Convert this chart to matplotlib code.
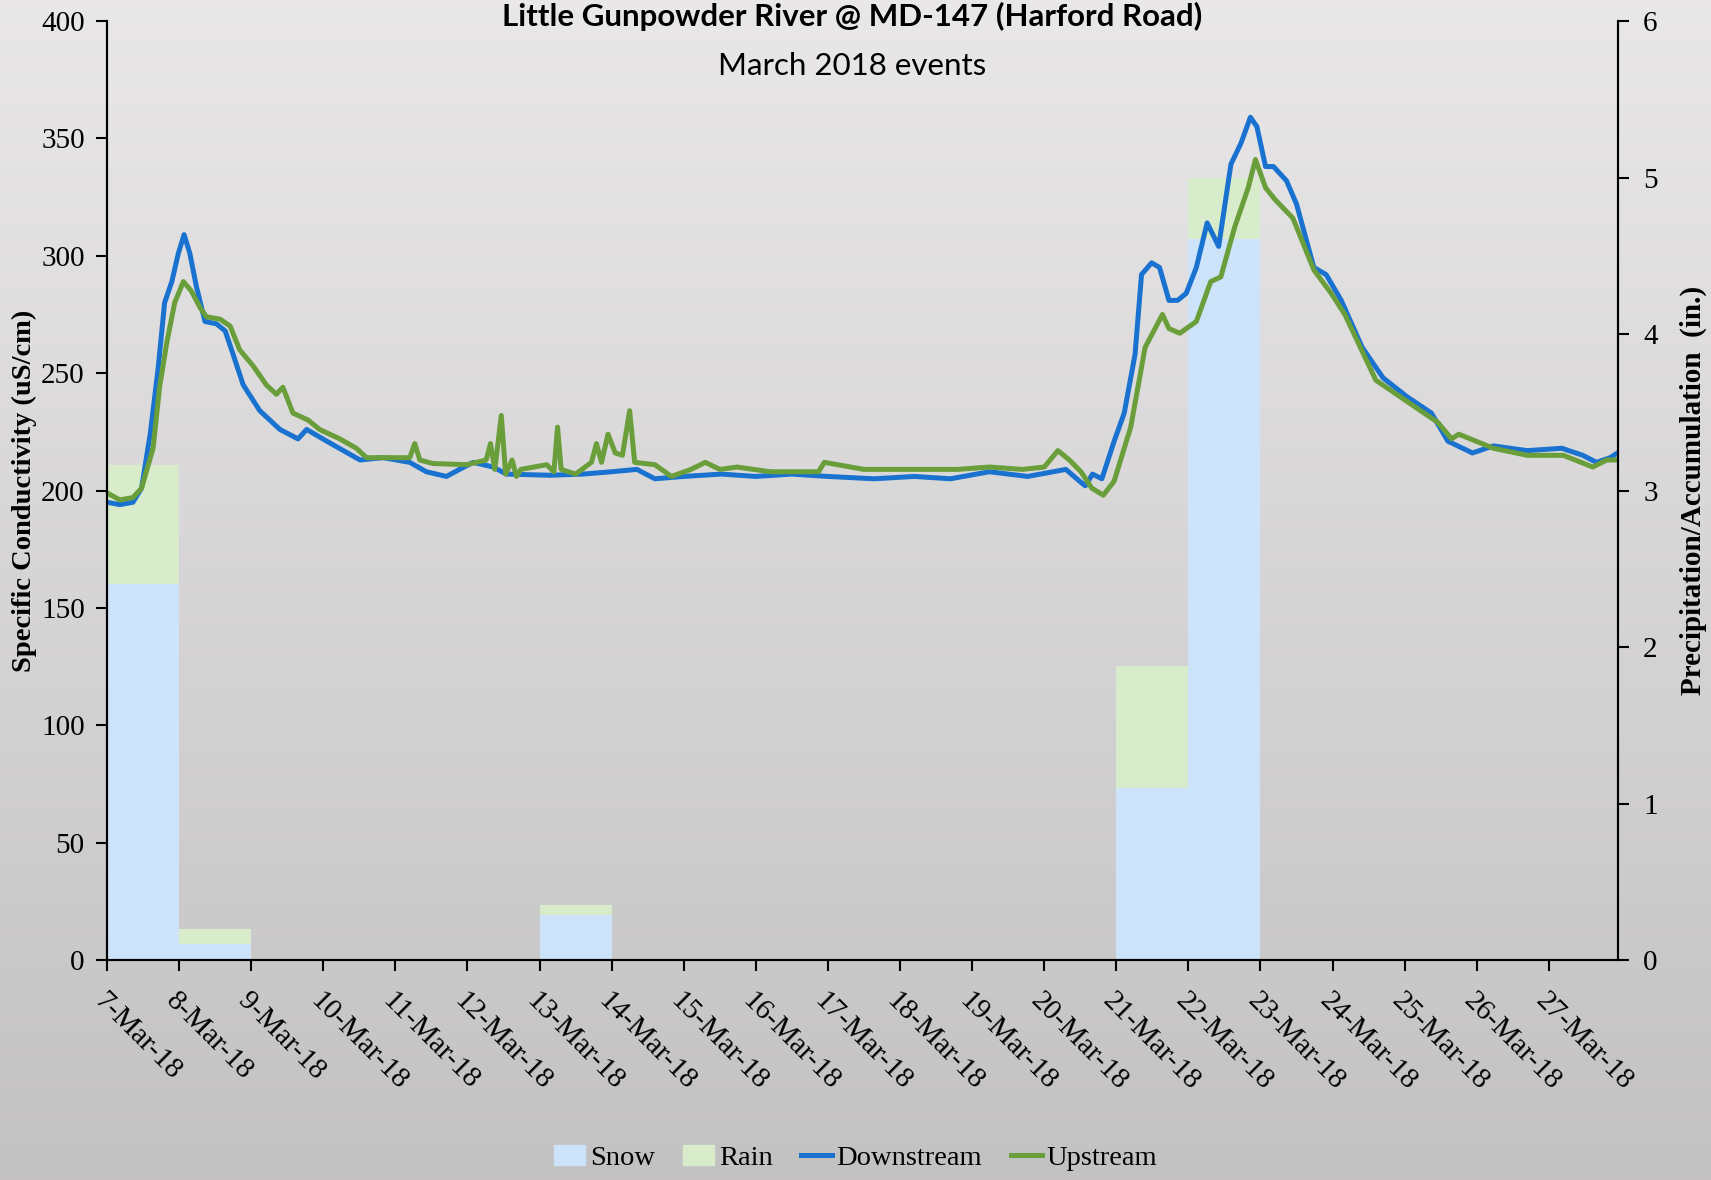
import numpy as np
import matplotlib
matplotlib.use("Agg")
import matplotlib.pyplot as plt
from matplotlib.patches import Patch
from matplotlib.lines import Line2D

# day labels (tick at midnight of each day, starting 7-Mar-18)
day_labels = ["%d-Mar-18" % d for d in range(7, 28)]

# precipitation per day (inches), bar starts at day offset
precip_day = [0, 1, 6, 14, 15]
snow = [2.40, 0.10, 0.29, 1.10, 4.61]
rain = [0.76, 0.10, 0.06, 0.78, 0.39]

# specific conductivity, days since 7-Mar 00:00
down_t = [0, 0.18, 0.36, 0.48, 0.6, 0.71, 0.8, 0.9, 0.99, 1.07, 1.15, 1.24, 1.36, 1.52,
          1.64, 1.75, 1.89, 2.12, 2.4, 2.65, 2.77, 3.05, 3.51, 3.83, 4.2, 4.43, 4.71,
          4.89, 5.08, 5.36, 5.54, 6.14, 6.6, 7.0, 7.35, 7.6, 8.0, 8.52, 9.0, 9.5, 10.0,
          10.64, 11.2, 11.7, 12.24, 12.77, 13.3, 13.49, 13.57, 13.67, 13.8, 13.97,
          14.11, 14.26, 14.35, 14.49, 14.6, 14.73, 14.85, 14.97, 15.11, 15.26, 15.42,
          15.59, 15.73, 15.86, 15.95, 16.07, 16.18, 16.36, 16.5, 16.74, 16.91, 17.12,
          17.41, 17.7, 18.03, 18.37, 18.6, 18.94, 19.23, 19.7, 20.18, 20.47, 20.66,
          20.85, 20.95]
down_v = [195, 194, 195, 201, 224, 252, 280, 289, 301, 309, 301, 287, 272, 271,
          268, 258, 245, 234, 226, 222, 226, 221, 213, 214, 212, 208, 206,
          209, 212, 210, 207, 206.5, 207, 208, 209, 205, 206, 207, 206, 207, 206,
          205, 206, 205, 208, 206, 209, 204, 202, 207, 205, 221,
          233, 258, 292, 297, 295, 281, 281, 284, 295, 314, 304,
          339, 348, 359, 355, 338, 338, 332, 322, 295, 292, 281,
          261, 248, 240, 233, 221, 216, 219, 217, 218, 215, 212,
          214, 216]

up_t = [0, 0.18, 0.36, 0.48, 0.64, 0.73, 0.83, 0.94, 1.06, 1.17, 1.29, 1.38, 1.57,
        1.71, 1.84, 2.03, 2.21, 2.35, 2.44, 2.58, 2.79, 2.95, 3.23, 3.46, 3.6, 3.97,
        4.2, 4.27, 4.34, 4.52, 4.99, 5.26, 5.32, 5.38, 5.47, 5.53, 5.62, 5.68, 5.74,
        6.1, 6.2, 6.25, 6.3, 6.5, 6.72, 6.79, 6.86, 6.95, 7.05, 7.15, 7.25, 7.32,
        7.6, 7.83, 8.1, 8.3, 8.5, 8.74, 9.2, 9.87, 9.95, 10.5, 11.2, 11.8, 12.24,
        12.7, 13.0, 13.19, 13.35, 13.51, 13.66, 13.82, 13.97, 14.2, 14.4, 14.64,
        14.73, 14.88, 15.11, 15.31, 15.45, 15.64, 15.83, 15.93, 16.07, 16.2, 16.45,
        16.74, 16.98, 17.17, 17.6, 18.03, 18.46, 18.65, 18.75, 19.23, 19.7, 20.2,
        20.61, 20.8, 20.95]
up_v = [199, 196, 197, 201, 218, 244, 263, 280, 289, 285, 278, 274, 273,
        270, 260, 253, 245, 241, 244, 233, 230, 226, 222, 218, 214, 214,
        214, 220, 213, 211.5, 211, 213, 220, 209, 232, 207, 213, 206, 209,
        211, 208, 227, 209, 207, 212, 220, 212, 224, 216, 215, 234, 212,
        211, 206, 209, 212, 209, 210, 208, 208, 212, 209, 209, 209, 210,
        209, 210, 217, 213, 208, 201, 198, 204, 227, 261, 275,
        269, 267, 272, 289, 291, 312, 329, 341, 329, 324, 316,
        294, 284, 275, 247, 238, 229, 222, 224, 218, 215, 215,
        210, 213, 213]

serif = ["Liberation Serif", "DejaVu Serif"]
title_font = ["Lato", "DejaVu Sans"]

fig = plt.figure(figsize=(17.11, 11.8), dpi=100)

# gradient background
bg = fig.add_axes([0, 0, 1, 1], zorder=-10)
grad = np.linspace(0, 1, 256).reshape(-1, 1)
top = np.array([0.915, 0.908, 0.912])
bot = np.array([0.765, 0.760, 0.762])
img = top + (bot - top) * grad[..., None]
bg.imshow(img, aspect="auto", extent=[0, 1, 0, 1], origin="upper")
bg.axis("off")

ax = fig.add_axes([0.0625, 0.1864, 0.8832, 0.7958])
ax2 = ax.twinx()

snow_c = "#cce3fa"
rain_c = "#d8ebca"
ax2.bar(precip_day, snow, width=1, align="edge", color=snow_c, linewidth=0)
ax2.bar(precip_day, rain, width=1, align="edge", bottom=snow, color=rain_c, linewidth=0)
ax2.set_ylim(0, 6)
ax2.set_yticks(range(0, 7))

ax.set_zorder(ax2.get_zorder() + 1)
ax.patch.set_visible(False)
ax2.patch.set_visible(False)

blue = "#1a72d0"
green = "#6a9e3a"
ax.plot(down_t, down_v, color=blue, lw=3.6)
ax.plot(up_t, up_v, color=green, lw=3.6)

ax.set_xlim(0, 20.96)
ax.set_ylim(0, 400)
ax.set_yticks(range(0, 401, 50))
ax.set_xticks(range(0, 21))
ax.set_xticklabels(day_labels, rotation=-45, ha="left", va="top",
                   rotation_mode="anchor", family=serif, fontsize=20)

for a in (ax, ax2):
    a.spines["top"].set_visible(False)
    for s in a.spines.values():
        s.set_linewidth(1.5)
    a.tick_params(length=8, width=1.5, labelsize=21)
    for lab in a.get_yticklabels():
        lab.set_family(serif)
ax.tick_params(axis="x", pad=12)
ax.tick_params(axis="y", pad=8)
ax2.tick_params(axis="y", pad=10)

ax.set_ylabel("Specific Conductivity (uS/cm)", family=serif, fontsize=20.5,
              fontweight="bold", labelpad=3)
ax2.set_ylabel("Precipitation/Accumulation  (in.)", family=serif, fontsize=21,
               fontweight="bold", labelpad=16)

fig.text(0.498, 0.986, "Little Gunpowder River @ MD-147 (Harford Road)", ha="center",
         va="center", family=title_font, fontsize=22.5, fontweight="bold")
fig.text(0.498, 0.944, "March 2018 events", ha="center", va="center",
         family=title_font, fontsize=22.5)

handles = [Patch(color=snow_c), Patch(color=rain_c),
           Line2D([], [], color=blue, lw=3.6), Line2D([], [], color=green, lw=3.6)]
fig.legend(handles, ["Snow", "Rain", "Downstream", "Upstream"], loc="center",
           bbox_to_anchor=(0.5, 0.019), ncol=4, frameon=False,
           prop={"family": serif, "size": 20.5}, handlelength=1.1, handletextpad=0.15,
           columnspacing=1.0)

fig.savefig("out.png", dpi=100)
